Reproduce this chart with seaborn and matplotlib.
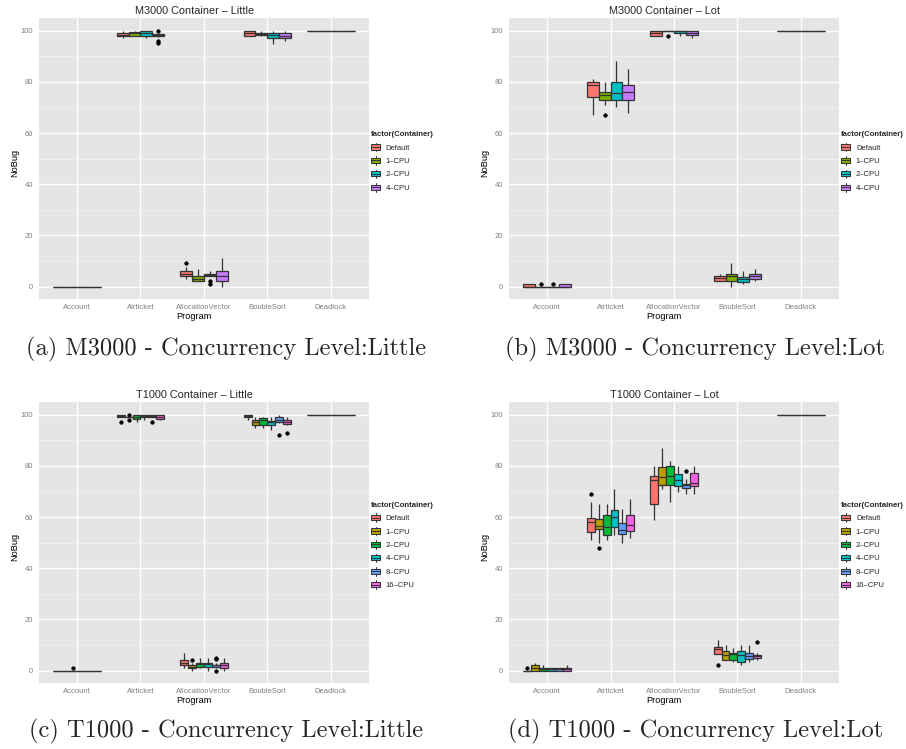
import pandas as pd
import matplotlib
matplotlib.use("Agg")
import matplotlib.pyplot as plt
import seaborn as sns
from matplotlib.patches import Patch, Rectangle
from matplotlib.lines import Line2D
from matplotlib.legend_handler import HandlerBase

programs = ["Account", "Airticket", "AllocationVector", "BoubleSort", "Deadlock"]
cont4 = ["Default", "1–CPU", "2–CPU", "4–CPU"]
cont6 = ["Default", "1–CPU", "2–CPU", "4–CPU", "8–CPU", "16–CPU"]
pal4 = ["#F8766D", "#7CAE00", "#00BFC4", "#C77CFF"]
pal6 = ["#F8766D", "#B79F00", "#00BA38", "#00BFC4", "#619CFF", "#F564E3"]

# box summaries, one row per program, one column per container
# (a) M3000 - Little
a_lo = [[0, 0, 0, 0], [97, 98, 97, 97.5], [3, 2, 4, 0], [98, 98, 95, 96], [100, 100, 100, 100]]
a_q1 = [[0, 0, 0, 0], [98, 98, 98, 98], [4, 2, 4, 2], [98, 98.2, 97, 97.3], [100, 100, 100, 100]]
a_med = [[0, 0, 0, 0], [98.5, 99, 99, 98.4], [5, 3, 4.5, 4], [99, 98.6, 98.5, 98], [100, 100, 100, 100]]
a_q3 = [[0, 0, 0, 0], [99, 99.6, 100, 98.7], [5.9, 4, 5, 6], [100, 99, 99, 99], [100, 100, 100, 100]]
a_hi = [[0, 0, 0, 0], [100, 100, 100, 99], [7.5, 7, 6, 11], [100, 100, 100, 100], [100, 100, 100, 100]]
a_out = [("Airticket", "4–CPU", 100), ("Airticket", "4–CPU", 96), ("Airticket", "4–CPU", 95.3),
         ("AllocationVector", "Default", 9), ("AllocationVector", "2–CPU", 2),
         ("AllocationVector", "2–CPU", 1)]

# (b) M3000 - Lot
b_lo = [[0, 0, 0, 0], [67, 71, 70, 68], [98, 100, 98, 97], [2, 0, 1, 2], [100, 100, 100, 100]]
b_q1 = [[0, 0, 0, 0], [74, 73.1, 72.8, 73], [98, 100, 99, 98.2], [2, 2, 1.7, 3], [100, 100, 100, 100]]
b_med = [[0, 0, 0, 0], [78.6, 74.8, 75.5, 76], [99, 100, 100, 99.2], [3.5, 4, 3, 4], [100, 100, 100, 100]]
b_q3 = [[1, 0, 0, 1], [79.8, 76, 79.8, 78.6], [100, 100, 100, 100], [4.3, 5, 3.7, 5], [100, 100, 100, 100]]
b_hi = [[1, 0, 0, 1], [81, 80, 88, 85], [100, 100, 100, 100], [5, 9, 6, 7], [100, 100, 100, 100]]
b_out = [("Account", "1–CPU", 1), ("Account", "2–CPU", 1), ("Airticket", "1–CPU", 67),
         ("AllocationVector", "1–CPU", 98)]

# (c) T1000 - Little
c_lo = [[0, 0, 0, 0, 0, 0], [99, 99, 97, 98, 99, 98], [1, 0, 1, 0, 1, 0],
        [98, 95, 95, 94, 96.8, 96], [100, 100, 100, 100, 100, 100]]
c_q1 = [[0, 0, 0, 0, 0, 0], [99, 99, 98.3, 99, 99, 98.3], [2.2, 1, 1.3, 1.3, 1.5, 1],
        [99, 96, 96, 96, 97, 96.2], [100, 100, 100, 100, 100, 100]]
c_med = [[0, 0, 0, 0, 0, 0], [99.5, 99, 99, 99.5, 99.5, 99.2], [3, 1.5, 2.5, 2.5, 2, 2],
         [99.5, 97, 98, 97, 98, 97.2], [100, 100, 100, 100, 100, 100]]
c_q3 = [[0, 0, 0, 0, 0, 0], [100, 99.2, 100, 100, 100, 100], [4.2, 2.1, 3, 3, 2.3, 3],
        [100, 98, 98.7, 97.7, 99, 98], [100, 100, 100, 100, 100, 100]]
c_hi = [[0, 0, 0, 0, 0, 0], [100, 99.2, 100, 100, 100, 100], [7, 3, 5, 5, 3, 5],
        [100, 99, 99, 99, 100, 99], [100, 100, 100, 100, 100, 100]]
c_out = [("Account", "2–CPU", 1), ("Airticket", "Default", 97), ("Airticket", "1–CPU", 100),
         ("Airticket", "1–CPU", 98), ("Airticket", "8–CPU", 97), ("AllocationVector", "1–CPU", 4),
         ("AllocationVector", "8–CPU", 5), ("AllocationVector", "8–CPU", 4.5),
         ("AllocationVector", "8–CPU", 0), ("BoubleSort", "8–CPU", 92), ("BoubleSort", "16–CPU", 93)]

# (d) T1000 - Lot
d_lo = [[0, 0, 0, 0, 0, 0], [51, 50, 51, 53, 50, 52], [59, 71, 66, 70, 69, 69],
        [6.5, 4.3, 3.3, 2, 3.4, 4.3], [100, 100, 100, 100, 100, 100]]
d_q1 = [[0, 0, 0, 0, 0, 0], [54.2, 55.3, 53, 56, 53.4, 54.6], [65.2, 72.7, 72.7, 72, 71.2, 72],
        [6.5, 4.3, 4.3, 3.5, 4.6, 4.9], [100, 100, 100, 100, 100, 100]]
d_med = [[0, 1, 0.5, 0.5, 0.5, 0.5], [58, 56.6, 56, 60, 55, 57], [74.6, 75.5, 76, 74.6, 72.4, 73.3],
         [8.5, 6.25, 6.5, 6, 5.5, 5.7], [100, 100, 100, 100, 100, 100]]
d_q3 = [[0, 2, 1, 1, 1, 1], [59.8, 59.4, 61, 62.8, 57.6, 61], [76, 79.6, 80, 77, 73, 77.2],
        [9.1, 7.8, 6.9, 7.8, 6.8, 6.25], [100, 100, 100, 100, 100, 100]]
d_hi = [[0, 3, 2, 1, 1, 2], [66, 65, 65, 71, 63, 67], [80, 87, 82, 80, 75, 80],
        [12, 10, 9, 10, 10, 7], [100, 100, 100, 100, 100, 100]]
d_out = [("Account", "Default", 1), ("Airticket", "Default", 69), ("Airticket", "1–CPU", 48),
         ("AllocationVector", "8–CPU", 78), ("BoubleSort", "Default", 2), ("BoubleSort", "16–CPU", 11)]

titles = ["M3000 Container – Little", "M3000 Container – Lot",
          "T1000 Container – Little", "T1000 Container – Lot"]
captions = ["(a) M3000 - Concurrency Level:Little", "(b) M3000 - Concurrency Level:Lot",
            "(c) T1000 - Concurrency Level:Little", "(d) T1000 - Concurrency Level:Lot"]


def build_frame(lo, q1, med, q3, hi, out, conts):
    # rebuild a sample whose quartiles / whiskers match the summaries
    rows = []
    for i, prog in enumerate(programs):
        for j, cont in enumerate(conts):
            vals = [lo[i][j]] + [q1[i][j]] * 20 + [med[i][j]] * 20 + [q3[i][j]] * 20 + [hi[i][j]]
            rows += [(prog, cont, v) for v in vals]
    rows += list(out)
    return pd.DataFrame(rows, columns=["Program", "Container", "NoBug"])


class BoxKey(HandlerBase):
    def create_artists(self, legend, orig_handle, xdescent, ydescent, width, height, fontsize, trans):
        x0, y0 = -xdescent, -ydescent
        bg = Rectangle((x0, y0), width, height, facecolor="#F2F2F2", edgecolor="white",
                       lw=0.5, transform=trans)
        box = Rectangle((x0 + 0.05 * width, y0 + 0.2 * height), 0.9 * width, 0.6 * height,
                        facecolor=orig_handle.get_facecolor(), edgecolor="#333333", lw=0.7,
                        transform=trans)
        med = Line2D([x0 + 0.05 * width, x0 + 0.95 * width], [y0 + 0.5 * height] * 2,
                     color="#333333", lw=0.7, transform=trans)
        w1 = Line2D([x0 + width / 2] * 2, [y0, y0 + 0.2 * height], color="#333333", lw=0.7,
                    transform=trans)
        w2 = Line2D([x0 + width / 2] * 2, [y0 + 0.8 * height, y0 + height], color="#333333",
                    lw=0.7, transform=trans)
        return [bg, box, med, w1, w2]


sns.set_theme(style="darkgrid", rc={"axes.facecolor": "#E5E5E5", "grid.color": "white"})
plt.rcParams["font.family"] = ["Liberation Sans", "DejaVu Sans"]

fig = plt.figure(figsize=(9.06, 7.49), dpi=100)

frames = [build_frame(a_lo, a_q1, a_med, a_q3, a_hi, a_out, cont4),
          build_frame(b_lo, b_q1, b_med, b_q3, b_hi, b_out, cont4),
          build_frame(c_lo, c_q1, c_med, c_q3, c_hi, c_out, cont6),
          build_frame(d_lo, d_q1, d_med, d_q3, d_hi, d_out, cont6)]
conts = [cont4, cont4, cont6, cont6]
pals = [pal4, pal4, pal6, pal6]
lefts = [0.043, 0.5618, 0.043, 0.5618]
bottoms = [0.6004, 0.6004, 0.0877, 0.0877]
cap_x = [0.2495, 0.7676, 0.2495, 0.7676]
cap_y = [1 - 349 / 749, 1 - 349 / 749, 1 - 731.7 / 749, 1 - 731.7 / 749]

for k in range(4):
    ax = fig.add_axes([lefts[k], bottoms[k], 0.3642, 0.3756])
    sns.boxplot(data=frames[k], x="Program", y="NoBug", hue="Container",
                order=programs, hue_order=conts[k], palette=pals[k], saturation=1,
                width=0.75, gap=0, linecolor="#333333", linewidth=0.9,
                showcaps=False, legend=False, ax=ax,
                flierprops=dict(marker="o", markerfacecolor="black", markeredgecolor="black",
                                markersize=2.6, markeredgewidth=0.4))
    ax.set_xlim(-0.6, 4.6)
    ax.set_ylim(-5, 105)
    ax.set_yticks([0, 20, 40, 60, 80, 100])
    ax.set_yticks([10, 30, 50, 70, 90], minor=True)
    ax.set_axisbelow(True)
    ax.grid(True, which="major", color="white", lw=1.0)
    ax.grid(True, which="minor", axis="y", color="#F2F2F2", lw=0.5)
    ax.xaxis.grid(True, which="major", color="white", lw=1.0)
    for s in ax.spines.values():
        s.set_visible(False)
    ax.tick_params(axis="both", which="major", direction="out", length=2.3, width=0.6,
                   color="#7F7F7F", labelcolor="#7F7F7F", labelsize=5.5, pad=1.2)
    ax.tick_params(axis="y", which="major", pad=2.0)
    ax.tick_params(which="minor", length=0)
    ax.set_xlabel("Program", fontsize=6.6, color="black")
    ax.set_ylabel("NoBug", fontsize=6.6, color="black")
    ax.xaxis.set_label_coords(0.47, -0.045)
    ax.yaxis.set_label_coords(-0.059, 0.485)
    ax.text(0.472, 1.024, titles[k], transform=ax.transAxes, ha="center", va="center",
            fontsize=7.8)

    handles = [Patch(facecolor=c, label=n) for c, n in zip(pals[k], conts[k])]
    ax.legend(handles=handles, handler_map={Patch: BoxKey()}, title="factor(Container)",
              loc="center left", bbox_to_anchor=(1.005, 0.49), frameon=False, fontsize=5.5,
              title_fontproperties={"weight": "bold", "size": 5.6}, alignment="left",
              handlelength=1.35, handleheight=1.35, labelspacing=0.6, handletextpad=0.65,
              borderaxespad=0, borderpad=0)

    fig.text(cap_x[k], cap_y[k], captions[k], ha="center", va="center",
             fontsize=17.6, family="cmr10")

fig.savefig("out.png", dpi=100)
